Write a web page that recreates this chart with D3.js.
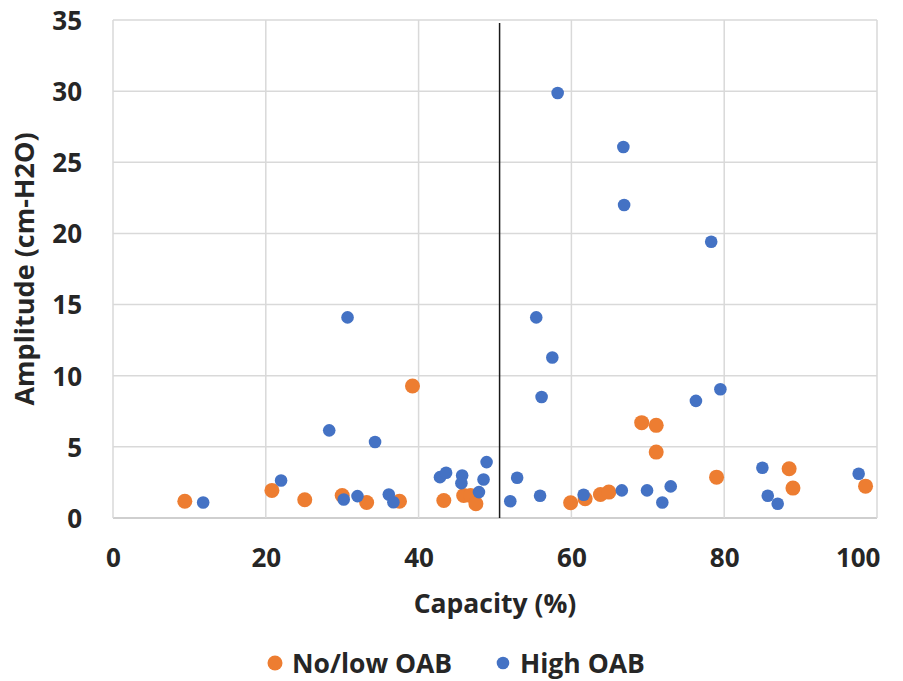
<!DOCTYPE html>
<html>
<head>
<meta charset="utf-8">
<script src="https://cdn.jsdelivr.net/npm/d3@7"></script>
<style>
  body { margin: 0; background: #fff; }
  svg text { font-family: "Open Sans", sans-serif; font-weight: bold; fill: #262626; }
</style>
</head>
<body>
<div id="chart"></div>
<script>
// No/low OAB series
var noLowCapacity = [9.4, 20.8, 25.1, 30.0, 33.2, 37.5, 39.2, 43.3, 45.9, 46.8, 47.5,
  59.9, 61.8, 63.8, 64.9, 69.2, 71.1, 71.1, 79.0, 88.5, 89.0, 98.5];
var noLowAmplitude = [1.18, 1.94, 1.28, 1.58, 1.09, 1.18, 9.28, 1.23, 1.58, 1.58, 1.0,
  1.07, 1.35, 1.65, 1.82, 6.7, 6.51, 4.63, 2.87, 3.46, 2.1, 2.24];

// High OAB series
var highCapacity = [11.8, 22.0, 28.3, 30.7, 30.2, 32.0, 34.3, 36.1, 36.7, 42.8, 43.6, 45.7,
  45.6, 47.9, 48.5, 48.9, 52.0, 52.9, 55.4, 55.9, 56.1, 57.5, 58.2, 61.6, 66.6, 66.8,
  66.9, 69.9, 71.9, 73.0, 76.3, 78.3, 79.5, 85.0, 85.7, 87.0, 97.6];
var highAmplitude = [1.09, 2.64, 6.16, 14.1, 1.30, 1.54, 5.34, 1.65, 1.11, 2.87, 3.18, 2.99,
  2.45, 1.82, 2.71, 3.93, 1.18, 2.83, 14.1, 1.56, 8.5, 11.28, 29.87, 1.63, 1.94, 26.07,
  22.0, 1.94, 1.09, 2.22, 8.23, 19.42, 9.05, 3.53, 1.56, 1.0, 3.11];

var xTicks = [0, 20, 40, 60, 80, 100];
var yTicks = [0, 5, 10, 15, 20, 25, 30, 35];
var cutoff = 50.6;

var seriesNames = ["No/low OAB", "High OAB"];
var seriesColors = ["#ED7D31", "#4472C4"];
var seriesRadius = [7.5, 6.3];

var width = 903, height = 681;
var margin = {top: 20, right: 26, bottom: 163, left: 113};
var w = width - margin.left - margin.right,
    h = height - margin.top - margin.bottom;

var svg = d3.select("#chart").append("svg")
    .attr("width", width)
    .attr("height", height);

var g = svg.append("g")
    .attr("transform", "translate(" + margin.left + "," + margin.top + ")");

var x = d3.scaleLinear().domain([0, 100]).range([0, w]);
var y = d3.scaleLinear().domain([0, 35]).range([h, 0]);

// gridlines
g.append("g")
    .attr("class", "grid")
    .selectAll("line.h")
    .data(yTicks)
    .enter().append("line")
      .attr("x1", 0).attr("x2", w)
      .attr("y1", d => y(d)).attr("y2", d => y(d))
      .attr("stroke", d => d === 0 ? "#cfcfcf" : "#d9d9d9")
      .attr("stroke-width", d => d === 0 ? 2 : 1.5);

g.select(".grid").selectAll("line.v")
    .data(xTicks)
    .enter().append("line")
      .attr("x1", d => x(d)).attr("x2", d => x(d))
      .attr("y1", 0).attr("y2", h)
      .attr("stroke", "#d9d9d9")
      .attr("stroke-width", 1.5);

// axes (labels only)
var xAxis = g.append("g")
    .attr("transform", "translate(0," + h + ")")
    .call(d3.axisBottom(x).tickValues(xTicks).tickSize(0).tickPadding(30));
var yAxis = g.append("g")
    .call(d3.axisLeft(y).tickValues(yTicks).tickSize(0).tickPadding(31));
[xAxis, yAxis].forEach(function(a) {
  a.select(".domain").remove();
  a.selectAll("text").style("font-size", "26px").attr("fill", "#262626");
});
yAxis.selectAll("text").attr("dy", "0.36em");
xAxis.selectAll("text").attr("dy", "0.72em");
// last label is pulled inside the chart edge, as in the original
xAxis.selectAll(".tick").filter(d => d === 100).select("text")
    .attr("text-anchor", "end").attr("x", 3);

// cutoff line
g.append("line")
    .attr("x1", x(cutoff)).attr("x2", x(cutoff))
    .attr("y1", 3).attr("y2", h)
    .attr("stroke", "#1a1a1a")
    .attr("stroke-width", 1.5);

// points
var series = [
  {name: seriesNames[0], xs: noLowCapacity, ys: noLowAmplitude},
  {name: seriesNames[1], xs: highCapacity, ys: highAmplitude}
];
series.forEach(function(s, i) {
  g.append("g").selectAll("circle")
      .data(s.xs.map((v, j) => [v, s.ys[j]]))
      .enter().append("circle")
        .attr("cx", d => x(d[0]))
        .attr("cy", d => y(d[1]))
        .attr("r", seriesRadius[i])
        .attr("fill", seriesColors[i]);
});

// axis titles
svg.append("text")
    .attr("x", margin.left + w / 2)
    .attr("y", 613)
    .attr("text-anchor", "middle")
    .style("font-size", "26.5px")
    .text("Capacity (%)");

svg.append("text")
    .attr("transform", "translate(34," + (margin.top + h / 2) + ") rotate(-90)")
    .attr("text-anchor", "middle")
    .style("font-size", "27px")
    .text("Amplitude (cm-H2O)");

// legend
var legendX = [275, 503];
var legend = svg.append("g").selectAll("g")
    .data(seriesNames)
    .enter().append("g")
      .attr("transform", (d, i) => "translate(" + legendX[i] + ",663)");
legend.append("circle")
    .attr("r", (d, i) => seriesRadius[i])
    .attr("fill", (d, i) => seriesColors[i]);
legend.append("text")
    .attr("x", 17)
    .attr("dy", "0.36em")
    .style("font-size", "26.5px")
    .text(d => d);
</script>
</body>
</html>
